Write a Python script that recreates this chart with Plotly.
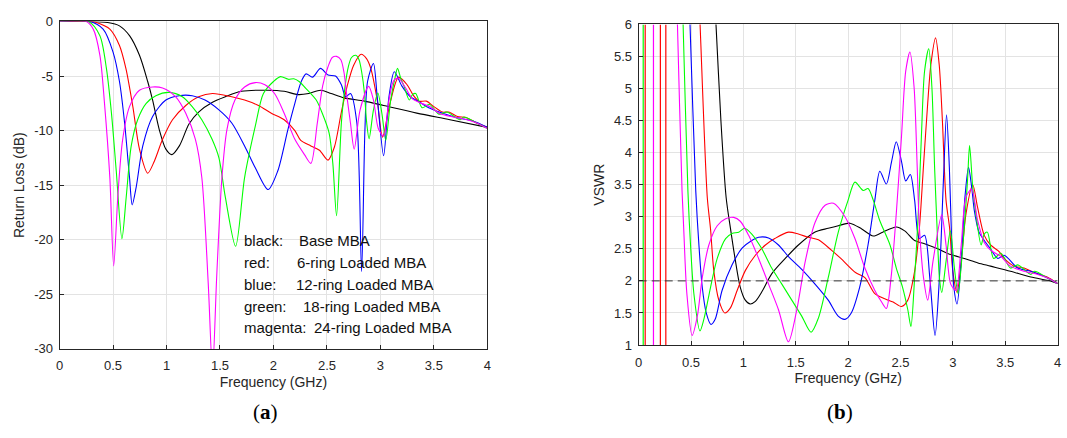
import plotly.graph_objects as go

# ---------------- Return loss data (GHz, dB) ----------------
black_f = [0, 0.25, 0.45, 0.56, 0.654, 0.747, 0.824, 0.87, 0.932, 0.994, 1.05, 1.12, 1.21, 1.30, 1.43, 1.55, 1.70, 1.95, 2.10, 2.23, 2.33, 2.44, 2.54, 2.66, 2.85, 3.03, 3.34, 3.65, 4.0]
black_db = [0, 0, -0.1, -0.4, -1.3, -3.1, -5.5, -7.2, -9.9, -11.7, -12.2, -11.4, -9.4, -8.3, -7.4, -6.9, -6.4, -6.3, -6.4, -6.7, -6.6, -6.3, -6.6, -7.0, -7.3, -7.7, -8.4, -9.0, -9.7]

red_f = [0, 0.3, 0.345, 0.47, 0.56, 0.62, 0.685, 0.747, 0.824, 0.886, 0.963, 1.056, 1.18, 1.30, 1.43, 1.61, 1.73, 1.86, 1.98, 2.10, 2.20, 2.255, 2.35, 2.43, 2.51, 2.57, 2.635, 2.69, 2.75, 2.82, 2.87, 2.91, 2.97, 3.02, 3.09, 3.17, 3.25, 3.31, 3.36, 3.43, 3.50, 3.58, 3.64, 3.72, 3.80, 3.88, 4.0]
red_db = [0, 0, -0.1, -0.7, -2.2, -4.3, -7.8, -11.7, -13.9, -12.8, -10.8, -9.0, -7.7, -6.9, -6.6, -6.9, -7.2, -7.7, -8.4, -9.0, -10.0, -10.9, -11.4, -11.8, -12.7, -11.5, -8.3, -5.9, -4.0, -3.0, -3.4, -4.3, -7.2, -10.6, -7.5, -5.1, -5.8, -6.8, -7.3, -7.3, -7.8, -8.3, -8.3, -8.7, -8.8, -9.2, -9.7]

blue_f = [0, 0.28, 0.407, 0.5, 0.56, 0.608, 0.654, 0.679, 0.716, 0.778, 0.87, 0.994, 1.117, 1.24, 1.36, 1.49, 1.61, 1.73, 1.83, 1.95, 2.04, 2.135, 2.20, 2.26, 2.305, 2.365, 2.44, 2.51, 2.58, 2.635, 2.675, 2.72, 2.78, 2.824, 2.855, 2.88, 2.935, 2.97, 3.03, 3.08, 3.13, 3.20, 3.28, 3.37, 3.43, 3.55, 3.71, 3.86, 4.0]
blue_db = [0, 0, -0.7, -2.8, -5.5, -9.3, -14.3, -16.8, -15.2, -11.4, -8.7, -7.2, -6.8, -6.8, -7.2, -8.1, -9.3, -11.4, -13.4, -15.4, -13.7, -9.9, -7.5, -5.5, -4.8, -5.1, -4.3, -4.9, -5.0, -5.8, -6.9, -6.6, -9.3, -22.9, -10.0, -5.5, -3.85, -6.9, -12.3, -6.9, -4.6, -5.9, -6.9, -7.4, -7.8, -8.3, -8.8, -9.1, -9.7]

green_f = [0, 0.27, 0.377, 0.438, 0.485, 0.53, 0.583, 0.623, 0.67, 0.73, 0.81, 0.90, 1.025, 1.148, 1.24, 1.33, 1.426, 1.49, 1.55, 1.646, 1.73, 1.83, 1.906, 2.0, 2.065, 2.14, 2.19, 2.24, 2.30, 2.40, 2.46, 2.52, 2.555, 2.59, 2.635, 2.67, 2.70, 2.73, 2.77, 2.80, 2.826, 2.85, 2.872, 2.894, 2.935, 2.976, 3.015, 3.05, 3.096, 3.14, 3.16, 3.19, 3.22, 3.27, 3.30, 3.33, 3.39, 3.46, 3.55, 3.62, 3.744, 3.78, 3.90, 4.0]
green_db = [0, 0, -1.3, -4.3, -8.4, -13.7, -19.9, -16.1, -11.4, -9.0, -7.5, -6.8, -6.5, -6.9, -7.8, -9.0, -10.8, -12.5, -16.1, -20.6, -14.3, -9.6, -6.6, -5.5, -5.05, -5.3, -5.25, -5.5, -6.1, -7.2, -8.5, -10.2, -13.0, -17.8, -9.3, -5.9, -4.15, -3.3, -3.1, -3.5, -4.7, -6.5, -9.3, -10.75, -8.1, -6.55, -8.5, -10.9, -7.2, -5.0, -4.3, -5.2, -5.9, -7.2, -6.7, -6.6, -7.9, -7.6, -8.5, -8.3, -9.0, -8.75, -9.3, -9.8]

magenta_f = [0, 0.25, 0.315, 0.377, 0.42, 0.47, 0.506, 0.546, 0.59, 0.654, 0.747, 0.87, 0.963, 1.086, 1.18, 1.27, 1.33, 1.39, 1.43, 1.47, 1.518, 1.565, 1.64, 1.73, 1.83, 1.92, 2.01, 2.10, 2.20, 2.29, 2.35, 2.41, 2.46, 2.51, 2.55, 2.59, 2.63, 2.66, 2.68, 2.72, 2.755, 2.81, 2.89, 2.935, 2.98, 3.03, 3.08, 3.126, 3.17, 3.236, 3.30, 3.36, 3.46, 3.55, 3.68, 3.81, 3.90, 4.0]
magenta_db = [0, 0, -0.7, -3.1, -7.5, -14.3, -22.4, -15.8, -10.8, -7.8, -6.3, -6.0, -6.1, -6.9, -8.4, -10.8, -14.3, -24.0, -32.0, -23.2, -14.3, -9.9, -7.2, -6.0, -5.6, -5.8, -6.6, -8.4, -10.8, -12.2, -13.0, -9.3, -5.9, -4.15, -3.3, -3.2, -3.5, -4.7, -6.35, -9.3, -11.7, -8.1, -5.95, -7.2, -9.8, -10.5, -7.2, -5.4, -5.2, -6.1, -7.1, -7.4, -7.8, -8.4, -8.75, -9.0, -9.3, -9.8]

# ---------------- VSWR data ----------------
black_vf = [0.70, 0.738, 0.785, 0.835, 0.877, 0.92, 0.97, 1.018, 1.066, 1.114, 1.176, 1.27, 1.40, 1.525, 1.68, 1.81, 1.906, 2.017, 2.13, 2.24, 2.33, 2.46, 2.54, 2.635, 2.73, 2.856, 2.98, 3.11, 3.24, 3.36, 3.55, 3.744, 3.93, 4.0]
black_v = [7.1, 6.0, 4.5, 3.3, 2.81, 2.35, 1.90, 1.70, 1.64, 1.68, 1.83, 2.11, 2.35, 2.56, 2.76, 2.82, 2.86, 2.90, 2.81, 2.70, 2.76, 2.84, 2.78, 2.63, 2.58, 2.50, 2.41, 2.35, 2.28, 2.23, 2.15, 2.06, 2.0, 1.96]

red_vf = [0.56, 0.586, 0.655, 0.686, 0.717, 0.765, 0.822, 0.876, 0.94, 1.018, 1.114, 1.21, 1.30, 1.43, 1.525, 1.62, 1.716, 1.84, 1.93, 2.07, 2.16, 2.255, 2.35, 2.43, 2.51, 2.57, 2.635, 2.68, 2.72, 2.76, 2.79, 2.835, 2.87, 2.90, 2.935, 2.97, 3.0, 3.04, 3.08, 3.126, 3.19, 3.236, 3.30, 3.36, 3.44, 3.49, 3.585, 3.68, 3.78, 3.90, 4.0]
red_v = [7.0, 6.0, 3.3, 2.81, 2.16, 1.70, 1.50, 1.58, 1.85, 2.16, 2.40, 2.56, 2.66, 2.76, 2.73, 2.68, 2.64, 2.48, 2.35, 2.13, 2.05, 1.80, 1.72, 1.67, 1.60, 1.70, 2.15, 2.81, 3.8, 4.77, 5.37, 5.79, 5.37, 4.51, 3.26, 2.81, 2.15, 1.82, 2.30, 3.05, 3.50, 3.15, 2.71, 2.56, 2.46, 2.35, 2.23, 2.20, 2.13, 2.06, 1.96]

blue_vf = [0.47, 0.49, 0.545, 0.575, 0.607, 0.645, 0.69, 0.73, 0.796, 0.892, 0.987, 1.08, 1.145, 1.24, 1.335, 1.43, 1.557, 1.684, 1.81, 1.905, 1.97, 2.03, 2.11, 2.19, 2.255, 2.303, 2.365, 2.415, 2.46, 2.51, 2.55, 2.594, 2.635, 2.68, 2.73, 2.78, 2.83, 2.872, 2.91, 2.94, 2.967, 2.99, 3.01, 3.04, 3.08, 3.116, 3.15, 3.18, 3.205, 3.25, 3.30, 3.36, 3.43, 3.49, 3.62, 3.744, 3.90, 4.0]
blue_v = [6.9, 6.0, 3.4, 2.56, 1.90, 1.50, 1.32, 1.40, 1.85, 2.25, 2.51, 2.63, 2.68, 2.67, 2.56, 2.38, 2.18, 1.95, 1.70, 1.45, 1.40, 1.50, 1.90, 2.56, 3.26, 3.71, 3.51, 3.86, 4.17, 3.86, 3.56, 3.66, 3.26, 2.66, 2.71, 2.05, 1.15, 2.05, 3.56, 4.59, 3.76, 2.56, 1.90, 1.64, 2.30, 3.31, 3.77, 3.46, 3.10, 2.76, 2.63, 2.50, 2.35, 2.40, 2.20, 2.15, 2.05, 1.96]

green_vf = [0.40, 0.424, 0.47, 0.495, 0.527, 0.585, 0.622, 0.686, 0.75, 0.83, 0.892, 0.955, 1.012, 1.08, 1.176, 1.27, 1.367, 1.462, 1.557, 1.646, 1.716, 1.81, 1.906, 2.0, 2.065, 2.144, 2.19, 2.24, 2.30, 2.40, 2.46, 2.52, 2.57, 2.60, 2.635, 2.67, 2.70, 2.73, 2.77, 2.80, 2.826, 2.85, 2.872, 2.894, 2.935, 2.976, 3.015, 3.05, 3.096, 3.14, 3.16, 3.19, 3.22, 3.27, 3.30, 3.33, 3.39, 3.46, 3.55, 3.62, 3.744, 3.78, 3.90, 4.0]
green_v = [7.4, 6.0, 3.4, 2.56, 1.80, 1.22, 1.40, 1.90, 2.35, 2.66, 2.74, 2.76, 2.82, 2.73, 2.50, 2.20, 1.95, 1.70, 1.45, 1.20, 1.42, 2.05, 2.76, 3.26, 3.54, 3.41, 3.44, 3.26, 2.95, 2.56, 2.20, 1.90, 1.55, 1.29, 2.05, 3.05, 4.26, 5.27, 5.62, 5.02, 3.76, 2.81, 2.05, 1.82, 2.30, 2.78, 2.20, 1.80, 2.56, 3.56, 4.11, 3.46, 3.05, 2.56, 2.73, 2.76, 2.35, 2.43, 2.20, 2.25, 2.10, 2.15, 2.05, 1.96]

magenta_vf = [0.35, 0.37, 0.414, 0.43, 0.46, 0.51, 0.56, 0.607, 0.67, 0.75, 0.83, 0.907, 0.97, 1.05, 1.145, 1.24, 1.335, 1.43, 1.51, 1.59, 1.684, 1.78, 1.86, 1.97, 2.065, 2.16, 2.255, 2.32, 2.365, 2.41, 2.46, 2.51, 2.55, 2.59, 2.63, 2.66, 2.68, 2.72, 2.76, 2.81, 2.894, 2.935, 2.98, 3.03, 3.08, 3.126, 3.18, 3.236, 3.30, 3.36, 3.46, 3.55, 3.68, 3.81, 3.90, 4.0]
magenta_v = [7.4, 6.0, 3.4, 2.81, 1.80, 1.15, 1.45, 2.05, 2.56, 2.86, 2.97, 2.99, 2.93, 2.71, 2.35, 1.95, 1.55, 1.05, 1.55, 2.30, 2.91, 3.18, 3.21, 3.0, 2.66, 2.20, 1.85, 1.67, 1.57, 2.05, 3.05, 4.26, 5.27, 5.57, 5.02, 3.76, 2.86, 2.05, 1.70, 2.30, 3.03, 2.56, 1.95, 1.85, 2.56, 3.31, 3.43, 2.95, 2.60, 2.48, 2.38, 2.23, 2.15, 2.10, 2.05, 1.96]

# low-frequency VSWR singularities (vertical spikes), GHz
spike_red = [0.062, 0.207, 0.259]
spike_green = [0.043]
spike_magenta = [0.141]

# axes / ticks
freq_ticks = [0, 0.5, 1, 1.5, 2, 2.5, 3, 3.5, 4]
rl_ticks = [0, -5, -10, -15, -20, -25, -30]
vswr_ticks = [1, 1.5, 2, 2.5, 3, 3.5, 4, 4.5, 5, 5.5, 6]
vswr_ref = 2

legend_labels = ["black:", "red:", "blue:", "green:", "magenta:"]
legend_texts = ["Base MBA", "6-ring Loaded MBA", "12-ring Loaded MBA", "18-ring Loaded MBA", "24-ring Loaded MBA"]

COL = {"black": "#000000", "red": "#ff0000", "blue": "#0000ff", "green": "#00ff00", "magenta": "#ff00ff"}
FONT = "Liberation Sans, Arial"

W, H = 1067, 438
fig = go.Figure()

rl_series = [("black", black_f, black_db), ("red", red_f, red_db), ("blue", blue_f, blue_db),
             ("green", green_f, green_db), ("magenta", magenta_f, magenta_db)]
for name, fx, fy in rl_series:
    fig.add_trace(go.Scatter(x=fx, y=fy, mode="lines", xaxis="x", yaxis="y",
                             line=dict(color=COL[name], width=1.1, shape="spline", smoothing=0.8),
                             showlegend=False, hoverinfo="skip"))

# spikes in VSWR plot
for name, sp in [("green", spike_green), ("red", spike_red), ("magenta", spike_magenta)]:
    xs, ys = [], []
    for f in sp:
        xs += [f, f, None]
        ys += [vswr_ticks[0], vswr_ticks[-1], None]
    fig.add_trace(go.Scatter(x=xs, y=ys, mode="lines", xaxis="x2", yaxis="y2",
                             line=dict(color=COL[name], width=1.2), showlegend=False, hoverinfo="skip"))

vs_series = [("black", black_vf, black_v), ("red", red_vf, red_v), ("blue", blue_vf, blue_v),
             ("green", green_vf, green_v), ("magenta", magenta_vf, magenta_v)]
for name, fx, fy in vs_series:
    fig.add_trace(go.Scatter(x=fx, y=fy, mode="lines", xaxis="x2", yaxis="y2",
                             line=dict(color=COL[name], width=1.1, shape="spline", smoothing=0.8),
                             showlegend=False, hoverinfo="skip"))

fig.add_trace(go.Scatter(x=[freq_ticks[0], freq_ticks[-1]], y=[vswr_ref, vswr_ref], mode="lines",
                         xaxis="x2", yaxis="y2", line=dict(color="#333333", width=1, dash="8px,5px"),
                         showlegend=False, hoverinfo="skip"))

def fmt(v):
    return "%g" % v

axis_common = dict(showline=True, mirror=True, linecolor="#262626", linewidth=1,
                   ticks="inside", ticklen=4, tickcolor="#262626",
                   showgrid=True, gridcolor="#e3e3e3", gridwidth=1, zeroline=False,
                   tickfont=dict(family=FONT, size=13, color="#262626"))
title_font = dict(family=FONT, size=14, color="#262626")

fig.update_layout(
    width=W, height=H, margin=dict(l=0, r=0, t=0, b=0),
    paper_bgcolor="white", plot_bgcolor="white",
    xaxis=dict(domain=[56 / W, 487 / W], range=[0, 4], anchor="y",
               tickvals=freq_ticks, ticktext=[fmt(v) for v in freq_ticks], ticklabelstandoff=5,
               title=dict(text="Frequency (GHz)", standoff=4, font=title_font),
               **axis_common),
    yaxis=dict(domain=[1 - 354 / H, 1 - 15 / H], range=[-30, 0], anchor="x",
               tickvals=rl_ticks, ticktext=[fmt(v) for v in rl_ticks], ticklabelstandoff=3,
               title=dict(text="Return Loss (dB)", standoff=6, font=title_font),
               **axis_common),
    xaxis2=dict(domain=[639.5 / W, 1061.5 / W], range=[0, 4], anchor="y2",
                tickvals=freq_ticks, ticktext=[fmt(v) for v in freq_ticks], ticklabelstandoff=5,
                title=dict(text="Frequency (GHz)", standoff=4, font=title_font),
                **axis_common),
    yaxis2=dict(domain=[1 - 350 / H, 1 - 18 / H], range=[1, 6], anchor="x2",
                tickvals=vswr_ticks, ticktext=[fmt(v) for v in vswr_ticks], ticklabelstandoff=3,
                title=dict(text="VSWR", standoff=6, font=title_font),
                **axis_common),
)

ann = []
label_y = [242, 265, 287, 310, 332]
text_x = [295, 293, 292, 299, 310]
for lab, txt, py, tx in zip(legend_labels, legend_texts, label_y, text_x):
    ann.append(dict(x=240 / W, y=1 - py / H, xref="paper", yref="paper", text=lab, showarrow=False,
                    xanchor="left", yanchor="middle",
                    font=dict(family=FONT, size=15, color="#111111")))
    ann.append(dict(x=tx / W, y=1 - py / H, xref="paper", yref="paper", text=txt, showarrow=False,
                    xanchor="left", yanchor="middle",
                    font=dict(family=FONT, size=15, color="#111111")))
for cap, cx in [("a", 263), ("b", 842)]:
    ann.append(dict(x=cx / W, y=1 - 419 / H, xref="paper", yref="paper", text="(<b>%s</b>)" % cap,
                    showarrow=False, xanchor="center", yanchor="middle",
                    font=dict(family="Liberation Serif, DejaVu Serif", size=21, color="#000000")))
fig.update_layout(annotations=ann)

fig.write_html("out.html")
